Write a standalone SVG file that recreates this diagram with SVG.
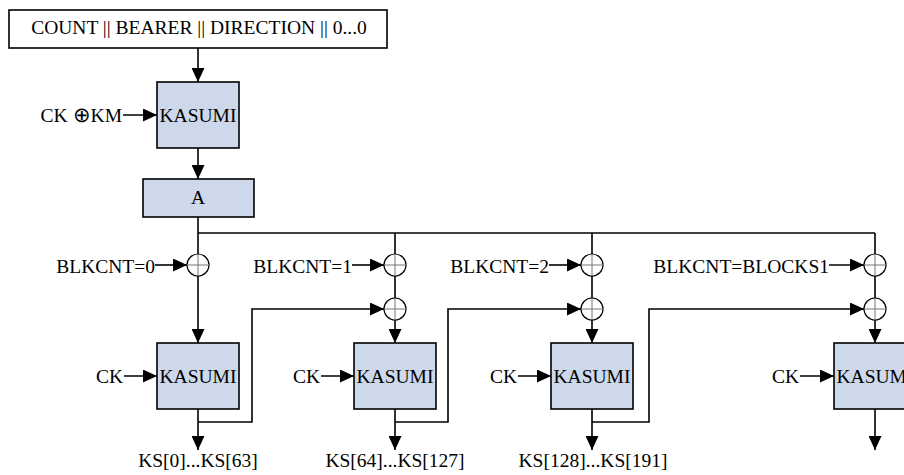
<svg xmlns="http://www.w3.org/2000/svg" width="904" height="475" viewBox="0 0 904 475">
<style>
text{font-family:"Liberation Serif","Times New Roman",serif;font-size:19.5px;fill:#000}
.c{text-anchor:middle}
.e{text-anchor:end}
.sym{font-family:"DejaVu Sans",sans-serif;font-size:21px;font-weight:200}
.box{fill:#cdd8ea;stroke:#000;stroke-width:1.6}
.wbox{fill:#fff;stroke:#000;stroke-width:1.6}
.ln{fill:none;stroke:#000;stroke-width:1.6}
.ar{fill:none;stroke:#000;stroke-width:1.6;marker-end:url(#ah)}
.xc{fill:#fff;stroke:#000;stroke-width:1.2}
.xx{stroke:#777;stroke-width:1}
</style>
<defs>
<marker id="ah" markerUnits="userSpaceOnUse" markerWidth="14" markerHeight="13" refX="14" refY="6.5" orient="auto">
<path d="M0,0 L14,6.5 L0,13 Z" fill="#000"/>
</marker>
<g id="xor"><circle r="11" class="xc"/><line x1="-11" y1="0" x2="11" y2="0" class="xx"/><line x1="0" y1="-11" x2="0" y2="11" class="xx"/></g>
</defs>
<rect width="904" height="475" fill="#fff"/>

<g id="connectors">
<line x1="198" y1="48" x2="198" y2="82" class="ar"/>
<line x1="123" y1="115" x2="157" y2="115" class="ar"/>
<line x1="198" y1="148" x2="198" y2="179" class="ar"/>
<polyline points="198,217 198,254" class="ln"/>
<polyline points="198,233 875,233" class="ln"/>
<line x1="395" y1="233" x2="395" y2="254" class="ln"/>
<line x1="592" y1="233" x2="592" y2="254" class="ln"/>
<line x1="875" y1="233" x2="875" y2="254" class="ln"/>
<line x1="155" y1="265" x2="187" y2="265" class="ar"/>
<line x1="352" y1="265" x2="384" y2="265" class="ar"/>
<line x1="549" y1="265" x2="581" y2="265" class="ar"/>
<line x1="829" y1="265" x2="864" y2="265" class="ar"/>
<line x1="198" y1="276" x2="198" y2="343" class="ar"/>
<line x1="395" y1="276" x2="395" y2="298" class="ln"/>
<line x1="592" y1="276" x2="592" y2="298" class="ln"/>
<line x1="875" y1="276" x2="875" y2="298" class="ln"/>
<line x1="395" y1="320" x2="395" y2="343" class="ar"/>
<line x1="592" y1="320" x2="592" y2="343" class="ar"/>
<line x1="875" y1="320" x2="875" y2="343" class="ar"/>
<line x1="124" y1="376" x2="157" y2="376" class="ar"/>
<line x1="321" y1="376" x2="354" y2="376" class="ar"/>
<line x1="518" y1="376" x2="551" y2="376" class="ar"/>
<line x1="800" y1="376" x2="834" y2="376" class="ar"/>
<line x1="198" y1="409" x2="198" y2="450" class="ar"/>
<line x1="395" y1="409" x2="395" y2="450" class="ar"/>
<line x1="592" y1="409" x2="592" y2="450" class="ar"/>
<line x1="875" y1="409" x2="875" y2="450" class="ar"/>
<polyline points="198,422 252,422 252,309 384,309" class="ar"/>
<polyline points="395,422 448,422 448,309 581,309" class="ar"/>
<polyline points="592,422 649,422 649,309 864,309" class="ar"/>
</g>

<g id="iv"><rect x="9" y="10" width="378" height="38" class="wbox"/><text x="199" y="34" class="c" font-size="19.8">COUNT || BEARER || DIRECTION || 0...0</text></g>
<g id="ckkm"><text x="122" y="122" class="e">CK <tspan class="sym">⊕</tspan>KM</text></g>
<g id="kasumi0"><rect x="157" y="82" width="82" height="66" class="box"/><text x="198" y="122" class="c">KASUMI</text></g>
<g id="regA"><rect x="143" y="179" width="111" height="38" class="box"/><text x="198" y="204" class="c">A</text></g>

<g id="xor1a"><use href="#xor" x="198" y="265"/></g>
<g id="xor2a"><use href="#xor" x="395" y="265"/></g>
<g id="xor3a"><use href="#xor" x="592" y="265"/></g>
<g id="xor4a"><use href="#xor" x="875" y="265"/></g>
<g id="xor2b"><use href="#xor" x="395" y="309"/></g>
<g id="xor3b"><use href="#xor" x="592" y="309"/></g>
<g id="xor4b"><use href="#xor" x="875" y="309"/></g>

<g id="blk0"><text x="155" y="273" class="e">BLKCNT=0</text></g>
<g id="blk1"><text x="352" y="273" class="e">BLKCNT=1</text></g>
<g id="blk2"><text x="549" y="273" class="e">BLKCNT=2</text></g>
<g id="blkn"><text x="829" y="273" class="e">BLKCNT=BLOCKS1</text></g>

<g id="ck1"><text x="123" y="383" class="e">CK</text></g>
<g id="ck2"><text x="320" y="383" class="e">CK</text></g>
<g id="ck3"><text x="517" y="383" class="e">CK</text></g>
<g id="ck4"><text x="799" y="383" class="e">CK</text></g>

<g id="kasumi1"><rect x="157" y="343" width="82" height="66" class="box"/><text x="198" y="383" class="c">KASUMI</text></g>
<g id="kasumi2"><rect x="354" y="343" width="82" height="66" class="box"/><text x="395" y="383" class="c">KASUMI</text></g>
<g id="kasumi3"><rect x="551" y="343" width="82" height="66" class="box"/><text x="592" y="383" class="c">KASUMI</text></g>
<g id="kasumi4"><rect x="834" y="343" width="82" height="66" class="box"/><text x="875" y="383" class="c">KASUMI</text></g>

<g id="ks1"><text x="198" y="467" class="c">KS[0]...KS[63]</text></g>
<g id="ks2"><text x="395" y="467" class="c">KS[64]...KS[127]</text></g>
<g id="ks3"><text x="593" y="467" class="c">KS[128]...KS[191]</text></g>
</svg>
